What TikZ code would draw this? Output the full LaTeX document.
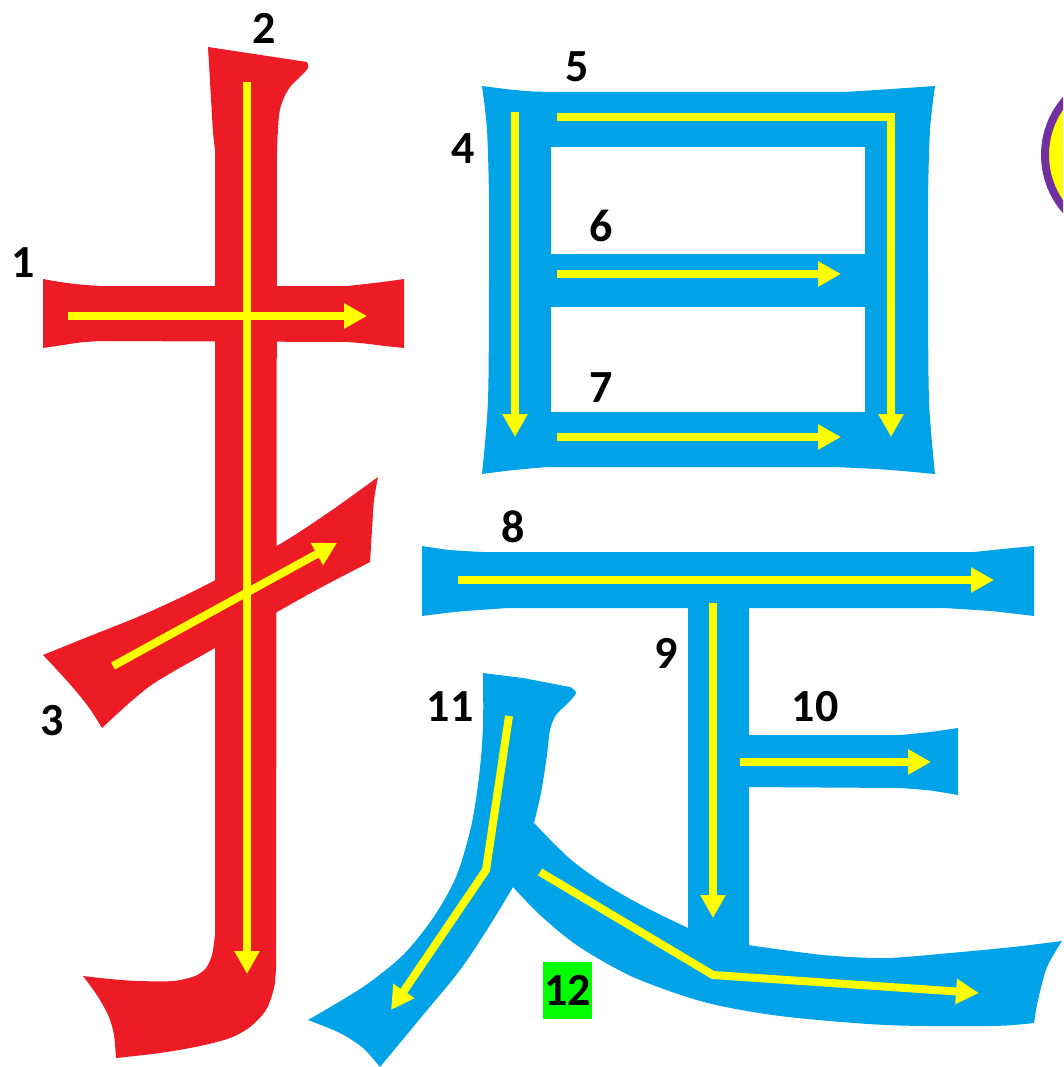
\documentclass[tikz,border=0pt]{standalone}
\usepackage{fontspec}
\setmainfont{Carlito}
\usetikzlibrary{arrows.meta}
\definecolor{strokered}{HTML}{ED1C24}
\definecolor{strokeblue}{HTML}{00A2E8}
\definecolor{arrowyellow}{HTML}{FFFF00}
\definecolor{markgreen}{HTML}{00FF00}
\definecolor{ringpurple}{HTML}{7030A0}
\tikzset{
  redstroke/.style={fill=strokered, draw=none},
  bluestroke/.style={fill=strokeblue, draw=none},
  hole/.style={fill=white, draw=none},
  orderarrow/.style={draw=arrowyellow, line width=8pt, line join=miter,
    -{Triangle[length=23pt,width=24pt]}},
  numlabel/.style={font=\fontsize{46}{46}\selectfont\bfseries, inner sep=0pt, text=black},
}
\begin{document}
\begin{tikzpicture}[x=1pt,y=-1pt]
\useasboundingbox (0,0) rectangle (1063,1067);
\begin{scope}
\clip (0,0) rectangle (1063,1067);
% ---------- red radical ----------
% stroke 1 (horizontal)
\path[redstroke] (43,279) -- plot[smooth] coordinates {(43,279) (60,282) (80,284.5) (100,286)} -- (347,286)
  -- plot[smooth] coordinates {(347,286) (370,283.5) (390,281) (404,279)}
  -- (404,348) -- plot[smooth] coordinates {(404,348) (385,346) (365,343.5) (347,342)} -- (100,341)
  -- plot[smooth] coordinates {(100,341) (80,342.5) (60,345.5) (43,348)} -- cycle;
% stroke 2 (vertical hook)
\path[redstroke] (208,47) -- (307,62)
  -- plot[smooth] coordinates {(307,62) (308,68) (300,77) (290,87) (283,100) (279,115) (277,150)}
  -- (276,968)
  -- plot[smooth] coordinates {(276,968) (274,988) (266,1010) (250,1027) (230,1038) (200,1046) (160,1053) (116,1058)}
  -- plot[smooth] coordinates {(116,1058) (114,1035) (109,1017) (100,1000) (92,988) (83,976)}
  -- plot[smooth] coordinates {(83,976) (110,979) (138,981) (173,981) (195,976) (206,968) (212,955) (215,935)}
  -- (215,150) -- (213,133) -- cycle;
% stroke 3 (rising)
\path[redstroke] (43,655)
  -- plot[smooth] coordinates {(43,655) (90,636) (140,616) (190,593) (240,567) (290,538) (335,508) (378,477)}
  -- plot[smooth] coordinates {(378,477) (374,500) (372,530) (370,562)}
  -- plot[smooth] coordinates {(370,562) (320,588) (270,616) (215,648) (150,686) (102,728)}
  -- plot[smooth] coordinates {(102,728) (90,709) (75,690) (58,671) (43,655)} -- cycle;
% ---------- blue parts ----------
% box (strokes 4-7)
\path[bluestroke] (482,86) -- plot[smooth] coordinates {(482,86) (510,89.5) (534,91.5) (559,92)} -- (844,92)
  -- plot[smooth] coordinates {(844,92) (884,89.5) (935,86)}
  -- plot[smooth] coordinates {(935,86) (930,130) (928,200) (928,280) (929,400) (935,474)}
  -- plot[smooth] coordinates {(935,474) (884,469.5) (834,467)} -- (547,467)
  -- plot[smooth] coordinates {(547,467) (510,470.5) (482,474)}
  -- plot[smooth] coordinates {(482,474) (488,400) (489,280) (489,200) (487,130) (482,86)} -- cycle;
\path[hole] (551,147) rectangle (865,254);
\path[hole] (551,307) rectangle (865,412);
% stroke 8
\path[bluestroke] (422,546) -- plot[smooth] coordinates {(422,546) (450,550) (483,552)} -- (974,552)
  -- plot[smooth] coordinates {(974,552) (1008,548.5) (1034,546)}
  -- (1034,616) -- plot[smooth] coordinates {(1034,616) (990,611) (943,608)} -- (508,608)
  -- plot[smooth] coordinates {(508,608) (460,611.5) (422,616)} -- cycle;
% stroke 9
\path[bluestroke] (688,605) rectangle (749,950);
% stroke 10
\path[bluestroke] (745,735) -- (900,735) -- plot[smooth] coordinates {(900,735) (930,732) (958,728)}
  -- (958,795) -- plot[smooth] coordinates {(958,795) (930,790.5) (900,788)} -- (745,787) -- cycle;
% stroke 11
\path[bluestroke] (483,673) -- (523,678) -- (570,687)
  -- plot[smooth] coordinates {(570,687) (576,693) (567,704) (556,715) (550,730) (547,755) (541,793) (534,823)}
  -- (513,887)
  -- plot[smooth] coordinates {(513,887) (490,925) (460,970) (423,1015) (380,1067)}
  -- plot[smooth] coordinates {(380,1067) (363,1048) (340,1033) (308,1020)}
  -- plot[smooth] coordinates {(308,1020) (363,987) (403,955) (433,918) (456,877) (471,827) (479,777) (483,727) (483,673)}
  -- cycle;
% stroke 12
\path[bluestroke] (534,823)
  -- plot[smooth] coordinates {(534,823) (569,858) (603,883) (645,907) (688,928)}
  -- (748,945)
  -- plot[smooth] coordinates {(748,945) (823,955) (886,958) (950,953) (1013,947) (1062,941)}
  -- plot[smooth] coordinates {(1062,941) (1047,967) (1038,1000) (1034,1023)}
  -- plot[smooth] coordinates {(1034,1023) (992,1026) (886,1025) (780,1016) (704,1002) (633,977) (578,946) (540,915) (513,887)}
  -- (505,860) -- cycle;
% ---------- partial ring at right edge ----------
\node[circle, minimum size=168pt, inner sep=0pt, draw=ringpurple, line width=8pt, fill=arrowyellow] (ring) at (1129,155) {};
% ---------- arrow coordinates ----------
\coordinate (a1s) at (68,316);   \coordinate (a1e) at (367,316);
\coordinate (a2s) at (247,82);   \coordinate (a2e) at (247,974);
\coordinate (a3s) at (113,666);  \coordinate (a3e) at (337,543);
\coordinate (a4s) at (515,112);  \coordinate (a4e) at (515,437);
\coordinate (a5s) at (557,117);  \coordinate (a5m) at (891,117); \coordinate (a5e) at (891,437);
\coordinate (a6s) at (557,274);  \coordinate (a6e) at (841,274);
\coordinate (a7s) at (557,437);  \coordinate (a7e) at (841,437);
\coordinate (a8s) at (458,580);  \coordinate (a8e) at (994,580);
\coordinate (a9s) at (713,603);  \coordinate (a9e) at (713,918);
\coordinate (a10s) at (740,762); \coordinate (a10e) at (931,762);
\coordinate (a11s) at (509,716); \coordinate (a11m) at (486,870); \coordinate (a11e) at (391,1010);
\coordinate (a12s) at (540,872); \coordinate (a12m) at (713,975); \coordinate (a12e) at (979,993);
% ---------- arrows ----------
\draw[orderarrow] (a1s) -- (a1e);
\draw[orderarrow] (a2s) -- (a2e);
\draw[orderarrow] (a3s) -- (a3e);
\draw[orderarrow] (a4s) -- (a4e);
\draw[orderarrow] (a5s) -- (a5m) -- (a5e);
\draw[orderarrow] (a6s) -- (a6e);
\draw[orderarrow] (a7s) -- (a7e);
\draw[orderarrow] (a8s) -- (a8e);
\draw[orderarrow] (a9s) -- (a9e);
\draw[orderarrow] (a10s) -- (a10e);
\draw[orderarrow] (a11s) -- (a11m) -- (a11e);
\draw[orderarrow] (a12s) -- (a12m) -- (a12e);
% ---------- labels ----------
\node[numlabel] (l1) at (23,263) {1};
\node[numlabel] (l2) at (264,28) {2};
\node[numlabel] (l3) at (52,721) {3};
\node[numlabel] (l4) at (463,149) {4};
\node[numlabel] (l5) at (577,67) {5};
\node[numlabel] (l6) at (601,226) {6};
\node[numlabel] (l7) at (601,388) {7};
\node[numlabel] (l8) at (513,527) {8};
\node[numlabel] (l9) at (666,653) {9};
\node[numlabel] (l10) at (815,707) {10};
\node[numlabel] (l11) at (450,707) {11};
\node[fill=markgreen, minimum width=49pt, minimum height=57pt, inner sep=0pt] (g12) at (567.5,990.5) {};
\node[numlabel] (l12) at (g12.center) {12};
\end{scope}
\end{tikzpicture}
\end{document}
